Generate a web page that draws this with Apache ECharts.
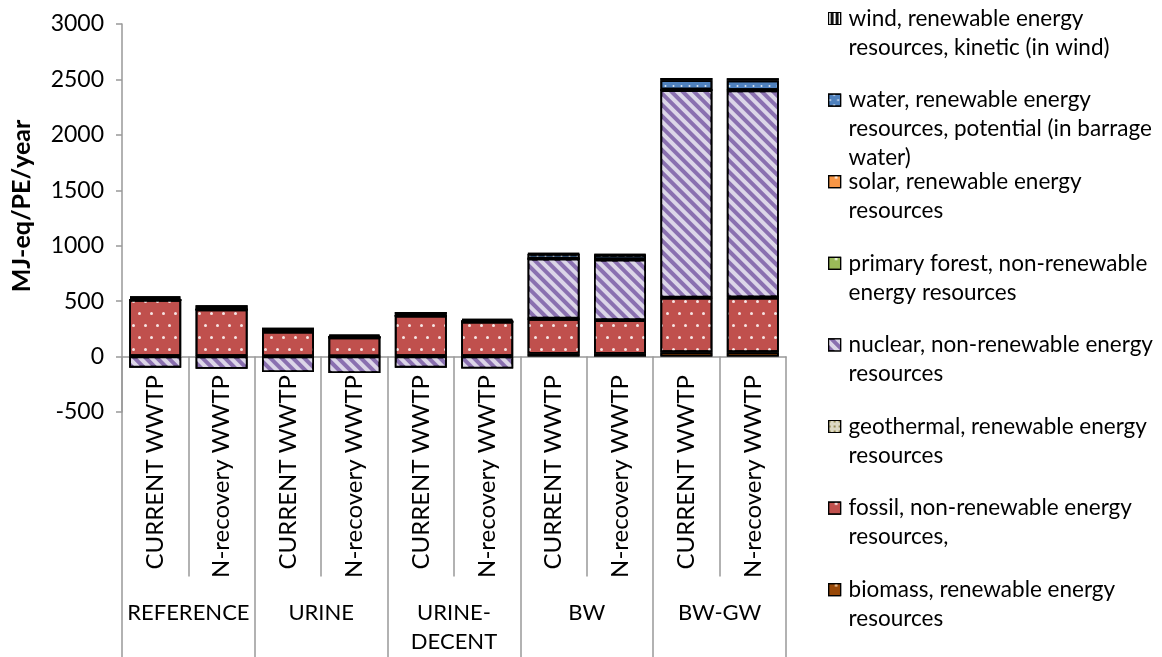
<!DOCTYPE html>
<html><head><meta charset="utf-8">
<script src="https://cdn.jsdelivr.net/npm/echarts@6/dist/echarts.min.js"></script>
<style>html,body{margin:0;padding:0;background:#fff}#c{width:1162px;height:657px}</style>
</head><body><div id="c"></div>
<script>
// ---- data ----
const subCategories = ['CURRENT WWTP','N-recovery WWTP','CURRENT WWTP','N-recovery WWTP','CURRENT WWTP','N-recovery WWTP','CURRENT WWTP','N-recovery WWTP','CURRENT WWTP','N-recovery WWTP'];
const groupLabels = ['REFERENCE','URINE','URINE-\nDECENT','BW','BW-GW'];
const yMin = -500, yMax = 3000, yInterval = 500;
const yAxisName = 'MJ-eq/PE/year';

const biomass    = [5, 5, 3, 3, 4, 4, 25, 25, 40, 40];
const fossil     = [505, 420, 222, 170, 365, 310, 315, 302, 490, 492];
const geothermal = [1, 1, 1, 1, 1, 1, 2, 2, 3, 3];
const nuclear    = [-100, -110, -140, -148, -100, -108, 540, 545, 1870, 1865];
const primaryForest = [0.5, 0.5, 0.5, 0.5, 0.5, 0.5, 1, 1, 1, 1];
const solar      = [1, 1, 1, 1, 1, 1, 2, 2, 4, 4];
const water      = [15, 10, 10, 8, 12, 10, 40, 40, 85, 85];
const wind       = [15, 25, 22, 15, 18, 15, 5, 5, 20, 20];

const seriesNames = {
  biomass: 'biomass, renewable energy resources',
  fossil: 'fossil, non-renewable energy resources,',
  geothermal: 'geothermal, renewable energy resources',
  nuclear: 'nuclear, non-renewable energy resources',
  primaryForest: 'primary forest, non-renewable energy resources',
  solar: 'solar, renewable energy resources',
  water: 'water, renewable energy resources, potential (in barrage water)',
  wind: 'wind, renewable energy resources, kinetic (in wind)'
};
const legendText = {};
legendText[seriesNames.wind] = 'wind, renewable energy\nresources, kinetic (in wind)';
legendText[seriesNames.water] = 'water, renewable energy\nresources, potential (in barrage\nwater)';
legendText[seriesNames.solar] = 'solar, renewable energy\nresources';
legendText[seriesNames.primaryForest] = 'primary forest, non-renewable\nenergy resources';
legendText[seriesNames.nuclear] = 'nuclear, non-renewable energy\nresources';
legendText[seriesNames.geothermal] = 'geothermal, renewable energy\nresources';
legendText[seriesNames.fossil] = 'fossil, non-renewable energy\nresources,';
legendText[seriesNames.biomass] = 'biomass, renewable energy\nresources';

// ---- styles ----
const FONT = 'Lato';
const FS = 22;
const dots = (c) => ({symbol:'circle', symbolSize:1, color:c, dashArrayX:[[2.6,8.4],[0,5.5,2.6,2.9]], dashArrayY:[2.6,8.4]});
const styles = {
  biomass: {color:'#984807', decal: dots('rgba(255,220,180,0.8)')},
  fossil: {color:'#C0504D', decal: dots('rgba(255,255,255,0.85)')},
  geothermal: {color:'#DDD9C3', decal:{symbol:'rect', symbolSize:1, color:'#948A54', dashArrayX:[2,3], dashArrayY:[2,3]}},
  nuclear: {color:'#8A70B0', decal:{symbol:'rect', symbolSize:1, color:'#DCD6E8', dashArrayX:[1,0], dashArrayY:[3.3,3.1], rotation:Math.PI/4}},
  primaryForest: {color:'#9BBB59', decal: dots('rgba(255,255,255,0.85)')},
  solar: {color:'#F79646', decal: dots('rgba(255,255,255,0.85)')},
  water: {color:'#4F81BD', decal:{symbol:'circle', symbolSize:1, color:'rgba(255,255,255,0.8)', dashArrayX:[[3,5],[0,4,3,1]], dashArrayY:[2,3]}},
  wind: {color:'#111111', decal:{symbol:'rect', symbolSize:1, color:'#ffffff', dashArrayX:[1.5,2.5], dashArrayY:[1,0]}}
};
const dataMap = {biomass, fossil, geothermal, nuclear, primaryForest, solar, water, wind};
const stackOrder = ['biomass','fossil','geothermal','nuclear','primaryForest','solar','water','wind'];

const series = stackOrder.map(k => ({
  name: seriesNames[k],
  type: 'bar',
  stack: 'total',
  barWidth: 52,
  xAxisIndex: 0,
  data: dataMap[k],
  itemStyle: {color: styles[k].color, decal: styles[k].decal, borderColor:'#000', borderWidth:1.8},
  emphasis: {disabled: true}
}));

// legends, one per item, top-to-bottom in reverse stack order
const legendOrder = stackOrder.slice().reverse();
const LH = 29, ICON = 12;
const legends = legendOrder.map((k, i) => {
  const name = seriesNames[k];
  const n = legendText[name].split('\n').length;
  const center = 18.5 + i * 81.6;
  const H = ICON + (n - 1) * LH;           // tall item so the square sits on the first text line
  const pathH = 10 * H / ICON;
  return {
    data: [name],
    orient: 'vertical',
    left: 828,
    top: center - LH / 2,
    padding: 0,
    itemWidth: ICON, itemHeight: H,
    icon: 'path://M0,0h10v10h-10zM0,' + pathH.toFixed(2),
    selectedMode: false,
    itemStyle: {borderColor:'#000', borderWidth:1.2},
    formatter: (nm) => legendText[nm],
    textStyle: {fontFamily: FONT, fontSize: FS + 0.5, color:'#000', lineHeight: LH, padding:[0, 0, 0, 3]}
  };
});

const chart = echarts.init(document.getElementById('c'), null, {renderer:'canvas'});
chart.setOption({
  animation: false,
  backgroundColor: '#fff',
  grid: {left: 122, right: 376, top: 24, bottom: 245, containLabel: false},
  legend: legends,
  graphic: [{type:'text', x: 22, y: 206, rotation: Math.PI/2,
    style:{text: yAxisName, fontFamily: FONT, fontSize: 25, fontWeight:'bold', fill:'#000', align:'center', verticalAlign:'middle'}}],
  xAxis: [
    {type:'category', data: subCategories, position:'bottom',
     axisLine:{onZero:true, lineStyle:{color:'#999', width:1.5}},
     axisTick:{show:true, interval:0, length:220, lineStyle:{color:'#999', width:1.5}},
     axisLabel:{rotate:90, interval:0, margin:-37, fontFamily:FONT, fontSize:24, color:'#000'}},
    {type:'category', data: groupLabels, position:'bottom',
     axisLine:{show:false, onZero:false},
     axisTick:{show:true, interval:0, length:245, lineStyle:{color:'#999', width:1.5}},
     axisLabel:{interval:0, margin:186, fontFamily:FONT, fontSize:FS, lineHeight:29, color:'#000'}}
  ],
  yAxis: {type:'value', min:yMin, max:yMax, interval:yInterval,
    axisLine:{show:true, lineStyle:{color:'#999', width:1.5}},
    axisTick:{show:true, length:6, lineStyle:{color:'#999', width:1.5}},
    splitLine:{show:false},
    axisLabel:{fontFamily:FONT, fontSize:23, color:'#000', margin:18, formatter: v => String(v)}},
  series
});
</script></body></html>
